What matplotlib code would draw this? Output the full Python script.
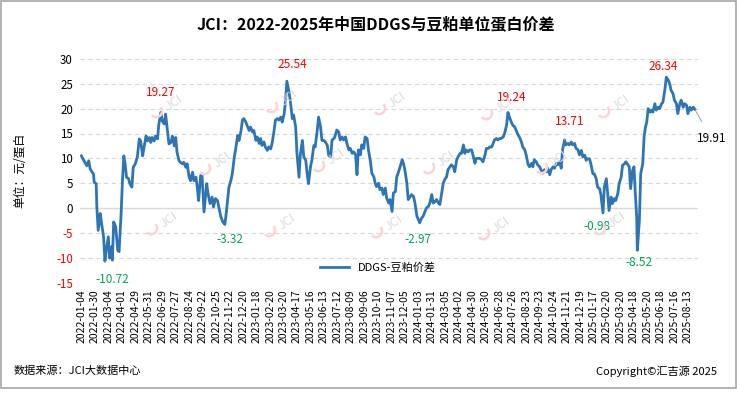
import matplotlib
matplotlib.use("Agg")
import matplotlib.pyplot as plt
from matplotlib.patches import Rectangle, Arc

plt.rcParams['font.family'] = ['Noto Sans CJK SC', 'DejaVu Sans']
plt.rcParams['axes.unicode_minus'] = False

# x tick labels, one every 20 trading days
tick_labels = [
    "2022-01-04", "2022-01-30", "2022-03-04", "2022-04-01", "2022-04-29", "2022-05-31",
    "2022-06-29", "2022-07-27", "2022-08-24", "2022-09-22", "2022-10-25", "2022-11-22",
    "2022-12-20", "2023-01-18", "2023-02-20", "2023-03-20", "2023-04-17", "2023-05-16",
    "2023-06-13", "2023-07-12", "2023-08-09", "2023-09-06", "2023-10-10", "2023-11-07",
    "2023-12-05", "2024-01-03", "2024-01-31", "2024-03-05", "2024-04-02", "2024-04-30",
    "2024-05-30", "2024-06-28", "2024-07-26", "2024-08-23", "2024-09-23", "2024-10-24",
    "2024-11-21", "2024-12-19", "2025-01-17", "2025-02-20", "2025-03-20", "2025-04-18",
    "2025-05-20", "2025-06-18", "2025-07-16", "2025-08-13",
]

# trading-day index and spread (yuan per unit protein)
day_idx = [
    0, 4, 8, 11, 13, 16, 18, 19, 22, 23, 25, 28, 30, 33, 35, 37, 40, 42, 45, 46,
    48, 51, 54, 56, 59, 61, 63, 65, 67, 70, 72, 75, 77, 80, 83, 86, 88, 91, 93, 96,
    98, 101, 103, 105, 108, 110, 113, 115, 118, 120, 123, 125, 128, 130, 133, 135, 138, 140, 142, 145,
    147, 150, 152, 155, 157, 160, 162, 165, 167, 170, 172, 174, 177, 179, 182, 186, 188, 191, 194, 196,
    199, 202, 204, 207, 210, 213, 216, 219, 222, 224, 227, 229, 232, 234, 237, 239, 241, 244, 246, 249,
    251, 254, 256, 259, 261, 264, 266, 268, 271, 273, 276, 278, 281, 283, 286, 288, 291, 293, 296, 298,
    301, 303, 305, 308, 310, 313, 315, 318, 320, 323, 325, 328, 330, 333, 335, 337, 340, 342, 345, 347,
    350, 352, 355, 357, 360, 362, 365, 367, 370, 372, 375, 377, 379, 382, 384, 387, 389, 392, 394, 397,
    399, 402, 404, 407, 409, 411, 414, 416, 419, 421, 424, 426, 429, 431, 434, 436, 438, 441, 443, 446,
    448, 451, 453, 456, 458, 461, 463, 466, 468, 470, 473, 476, 478, 480, 483, 485, 488, 490, 493, 495,
    498, 500, 502, 505, 507, 510, 512, 515, 517, 520, 522, 525, 527, 530, 532, 535, 537, 539, 542, 544,
    547, 549, 552, 554, 557, 559, 562, 564, 567, 569, 571, 574, 576, 579, 581, 584, 586, 589, 591, 594,
    596, 599, 601, 604, 606, 609, 611, 613, 616, 618, 621, 623, 626, 628, 631, 633, 636, 638, 640, 643,
    645, 648, 650, 653, 655, 658, 660, 663, 665, 668, 670, 672, 675, 677, 680, 682, 685, 687, 690, 692,
    695, 697, 700, 702, 705, 707, 710, 712, 714, 717, 719, 722, 724, 727, 729, 732, 734, 737, 739, 742,
    744, 747, 749, 751, 754, 756, 759, 761, 764, 766, 769, 771, 774, 776, 779, 781, 783, 786, 788, 791,
    793, 796, 798, 801, 803, 806, 808, 810, 813, 815, 818, 820, 822, 824, 825, 828, 830, 833, 835, 837,
    839, 841, 844, 846, 848, 851, 853, 856, 858, 861, 863, 866, 868, 871, 873, 875, 878, 880, 883, 885,
    888, 890, 893, 895, 898, 900, 903, 905, 908, 910,
]
spread = [
    10.5, 9.5, 8.5, 9.5, 7.9, 7.2, 6.9, 5.2, 4.9, 0.2, -4.5, -1.1, -3.1, -5.8, -10.72, -8.5, -5.8, -10.1, -7.8, -10.5,
    -2.8, -3.8, -8.5, -8.8, -1.1, 5.5, 10.5, 8.9, 6.2, 5.9, 4.9, 4.2, 8.2, 8.9, 10.2, 13.9, 13.5, 10.5, 12.2, 14.5,
    13.5, 14.2, 13.2, 14.2, 13.5, 14.5, 13.9, 16.9, 19.27, 17.5, 16.9, 18.9, 15.2, 12.9, 13.2, 14.5, 12.5, 14.2, 11.2, 9.5,
    9.2, 8.9, 9.2, 8.2, 8.9, 6.2, 5.5, 7.2, 5.5, 6.2, 4.2, 1.5, 6.5, 6.9, -0.8, 4.9, 2.9, 0.9, 2.2, 0.2,
    1.9, 1.5, 0.2, -1.8, -2.8, -3.32, 0.2, 4.2, 5.6, 6.9, 10.3, 11.9, 14.6, 13.6, 15.6, 17.7, 18.0, 17.3, 16.6, 15.6,
    16.3, 15.3, 15.6, 13.6, 14.3, 13.0, 14.0, 12.6, 13.3, 12.3, 11.6, 12.3, 11.9, 13.0, 15.6, 17.7, 18.0, 17.7, 18.3, 17.3,
    19.0, 21.7, 25.54, 23.4, 21.7, 18.0, 18.7, 16.3, 10.9, 6.2, 10.9, 13.6, 10.3, 9.6, 6.9, 4.9, 8.3, 9.6, 12.6, 12.3,
    15.6, 18.3, 16.3, 13.6, 13.6, 13.3, 12.6, 10.6, 10.3, 13.7, 14.0, 14.7, 15.7, 15.3, 13.7, 14.3, 13.7, 14.3, 13.0, 11.7,
    12.0, 11.0, 11.3, 10.7, 6.7, 11.7, 10.7, 12.7, 12.0, 14.3, 14.0, 11.7, 9.3, 7.0, 6.3, 5.0, 4.3, 5.0, 3.7, 4.0,
    2.7, 4.0, 2.0, 1.0, 1.7, -0.7, 3.0, 3.3, 6.3, 7.0, 8.3, 9.7, 9.0, 7.7, 5.0, 1.7, 2.3, 2.7, 2.3, 1.0,
    -1.7, -2.3, -2.97, -2.0, -1.7, -0.7, 0.0, 0.3, 1.0, 2.7, 1.0, 1.3, 1.7, 1.0, 0.7, 3.3, 5.0, 5.7, 6.3, 7.7,
    8.3, 8.7, 8.3, 7.3, 9.7, 10.3, 11.0, 11.0, 12.7, 11.0, 11.7, 11.3, 11.7, 11.7, 10.7, 9.0, 10.0, 10.0, 10.0, 9.7,
    9.3, 10.7, 12.0, 12.0, 12.3, 12.3, 13.0, 13.7, 14.0, 13.7, 14.0, 14.0, 14.3, 15.0, 16.7, 19.24, 18.0, 17.3, 16.7, 16.3,
    15.7, 14.7, 14.3, 13.3, 12.3, 11.7, 10.7, 8.7, 8.3, 9.0, 8.3, 9.7, 9.3, 8.7, 8.3, 7.7, 7.0, 7.7, 7.3, 8.0,
    6.7, 7.7, 8.3, 8.0, 9.0, 8.7, 9.3, 8.0, 11.7, 13.71, 12.7, 13.0, 12.7, 13.3, 12.7, 13.0, 12.0, 11.7, 10.7, 11.6,
    10.3, 10.6, 9.6, 9.9, 9.9, 8.9, 6.9, 6.9, 5.9, 4.2, 3.9, 2.6, -0.98, 4.2, 5.9, 2.9, -0.5, 2.2, 0.9, 1.9,
    1.5, 2.9, 4.9, 6.2, 8.6, 8.9, 9.3, 8.9, 8.3, 3.9, 7.6, 8.3, 2.9, -1.8, -8.52, -2.5, 6.9, 8.9, 14.3, 16.3,
    17.3, 20.0, 19.3, 19.7, 19.3, 21.0, 19.7, 20.3, 20.0, 21.0, 21.3, 24.0, 26.34, 25.7, 25.0, 23.7, 23.0, 21.7, 21.0, 19.0,
    21.0, 21.7, 20.3, 21.0, 20.7, 19.0, 20.3, 19.7, 20.3, 19.91,
]

# labelled extremes: value, colour, text offset in points
marks = [
    (-10.72, "#00a651", (5, -13)),
    (19.27, "red", (0, 14)),
    (-3.32, "#00a651", (4, -11)),
    (25.54, "red", (4, 12)),
    (-2.97, "#00a651", (-1, -12)),
    (19.24, "red", (3, 11)),
    (13.71, "red", (4, 13)),
    (-0.98, "#00a651", (-4, -10)),
    (-8.52, "#00a651", (1, -9)),
    (26.34, "red", (-2, 8)),
    (19.91, "black", (12, -21)),
]

fig = plt.figure(figsize=(7.37, 3.98), dpi=100)
fig.patch.set_facecolor("white")
fig.patches.append(Rectangle((0.002, 1 - 388 / 398), 0.996, 388 / 398 - 0.003,
                             transform=fig.transFigure, fill=False,
                             edgecolor="#a6a6a6", linewidth=1.2))

ax = fig.add_axes([80 / 737, 1 - 282.5 / 398, 618 / 737, 223.5 / 398])
ax.set_xlim(-2, 915)
ax.set_ylim(-15, 30)
ax.set_yticks(range(-15, 31, 5))
for v in range(-15, 31, 5):
    if v == 0:
        ax.axhline(0, color="#d9d9d9", lw=1.0, zorder=1)
    else:
        ax.axhline(v, color="#d9d9d9", lw=0.8, ls=(0, (4, 3)), zorder=1)
for s in ax.spines.values():
    s.set_visible(False)

ax.set_xticks(range(0, 20 * len(tick_labels), 20))
ax.set_xticklabels(tick_labels, rotation=90, fontsize=7.5)
ax.tick_params(axis="both", length=0, pad=5)
ax.tick_params(axis="y", labelsize=8.3)
for lab in ax.get_yticklabels():
    if float(lab.get_text().replace("−", "-")) < 0:
        lab.set_color("red")

# faint JCI watermarks
wm = [(165, 108), (280, 103), (388, 105), (495, 110), (612, 108),
      (213, 165), (327, 162), (437, 164), (550, 164),
      (160, 225), (278, 227), (385, 228), (492, 230), (608, 225)]
for (px, py) in wm:
    fx, fy = px / 737, 1 - py / 398
    fig.text(fx + 0.012, fy + 0.014, "JCI", color="#dcdcdc", fontsize=9,
             rotation=35, ha="center", va="center", zorder=0)
    fig.patches.append(Arc((fx - 0.012, fy - 0.008), 0.016, 0.03, theta1=240, theta2=60,
                           transform=fig.transFigure, color="#fbd5d5", lw=1.8, zorder=0))

ax.plot(day_idx, spread, color="#2e75b6", lw=2.0, label="DDGS-豆粕价差", zorder=3)

for val, col, off in marks:
    i = spread.index(val)
    lead = val in (13.71, -10.72, 19.91)
    ax.annotate(f"{val:.2f}", xy=(day_idx[i], spread[i]), xytext=off, textcoords="offset points",
                ha="center", va="center", color=col, fontsize=8.5, zorder=4,
                arrowprops=dict(arrowstyle="-", color="#a6a6a6", lw=0.8, shrinkA=6, shrinkB=1) if lead else None)

ax.legend(loc="center", bbox_to_anchor=((378 - 80) / 618, (282.5 - 268) / 223.5),
          frameon=False, fontsize=8, handlelength=2.6)

fig.text(376 / 737, 1 - 24 / 398, "JCI：2022-2025年中国DDGS与豆粕单位蛋白价差",
         ha="center", va="center", fontsize=11.5, fontweight="bold")
fig.text(20 / 737, 1 - 170 / 398, "单位：元/蛋白", rotation=90,
         ha="center", va="center", fontsize=8.5)
fig.text(14 / 737, 1 - 371 / 398, "数据来源：JCI大数据中心", ha="left", va="center", fontsize=8)
fig.text(717 / 737, 1 - 371 / 398, "Copyright©汇吉源 2025", ha="right", va="center", fontsize=8)

fig.savefig("out.png", dpi=100)
